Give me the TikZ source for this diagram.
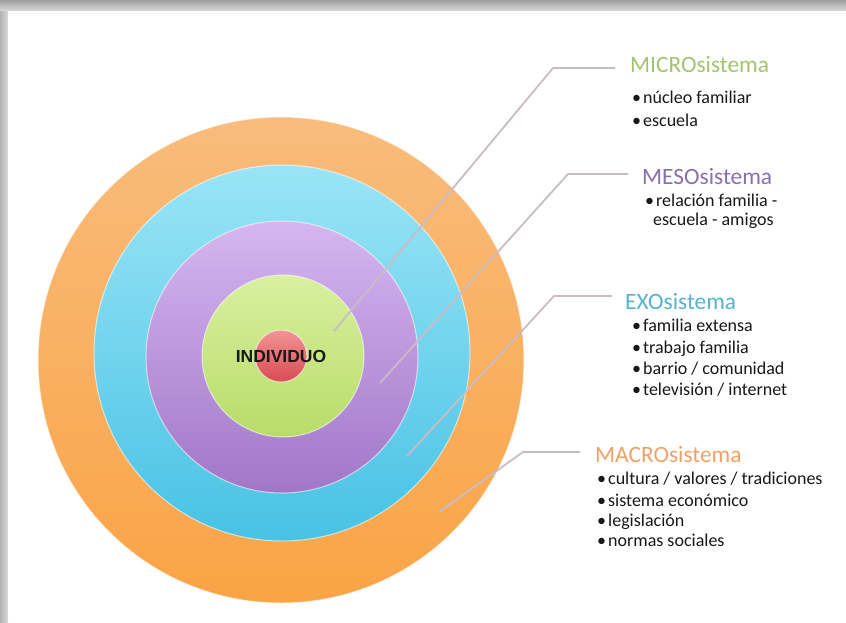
\documentclass[tikz,border=0pt]{standalone}
\usepackage{fontspec}
\setmainfont{Carlito}
\newfontfamily\arialf{Liberation Sans}
\definecolor{oT}{HTML}{F9BC7C}
\definecolor{oB}{HTML}{F9A445}
\definecolor{cT}{HTML}{9AE5F6}
\definecolor{cB}{HTML}{48C2E4}
\definecolor{pT}{HTML}{D6B6F0}
\definecolor{pB}{HTML}{A176C8}
\definecolor{gT}{HTML}{D8F0A0}
\definecolor{gB}{HTML}{B8DC68}
\definecolor{rT}{HTML}{F29496}
\definecolor{rB}{HTML}{DA4B52}
\definecolor{lineC}{HTML}{C9BCC4}
\definecolor{microC}{HTML}{A3C46E}
\definecolor{mesoC}{HTML}{8A6FAE}
\definecolor{exoC}{HTML}{55B4CE}
\definecolor{macroC}{HTML}{F4A066}
\definecolor{txtC}{HTML}{181818}
\newcommand\bl{\textbullet\hspace{2pt}}
\begin{document}
\begin{tikzpicture}[x=1pt,y=-1pt,
  ring/.style={circle, inner sep=0pt, draw=white, draw opacity=0.6, line width=1pt},
  conn/.style={draw=lineC, line width=1.8pt},
  ttl/.style={anchor=base west, inner sep=0pt, font=\fontsize{23.4}{27}\selectfont},
  bul/.style={anchor=base west, inner sep=0pt, text=txtC, font=\fontsize{18}{22}\selectfont}]
\useasboundingbox (0,0) rectangle (846,622);
% frame
\fill[top color=gray!75, bottom color=gray!30] (0,0) rectangle (846,11);
\fill[left color=gray!60, right color=gray!30] (0,11) rectangle (8,622);
\fill[white] (8,11) rectangle (846,622);
% circles
\node[ring, top color=oT, bottom color=oB, minimum size=486pt] (macro) at (281,360) {};
\node[ring, top color=cT, bottom color=cB, minimum size=376pt] (exo) at (282,353) {};
\node[ring, top color=pT, bottom color=pB, minimum size=272pt] (meso) at (282,357) {};
\node[ring, top color=gT, bottom color=gB, minimum size=162pt] (micro) at (283,356) {};
\node[ring, top color=rT, bottom color=rB, minimum size=52pt] (indiv) at (281,356) {};
\node[inner sep=0pt, text=txtC, font=\arialf\bfseries\fontsize{17.5}{20}\selectfont] (indivtxt) at (281,356) {INDIVIDUO};
% connector points
\coordinate (micS) at (334,331);
\coordinate (micK) at (553,68);
\coordinate (micE) at (615,68);
\coordinate (mesS) at (380,383);
\coordinate (mesK) at (568,174);
\coordinate (mesE) at (628,174);
\coordinate (exoS) at (407,456);
\coordinate (exoK) at (554,296);
\coordinate (exoE) at (612,296);
\coordinate (macS) at (439,512);
\coordinate (macK) at (523,452);
\coordinate (macE) at (580,452);
\draw[conn] (micS) -- (micK) -- (micE);
\draw[conn] (mesS) -- (mesK) -- (mesE);
\draw[conn] (exoS) -- (exoK) -- (exoE);
\draw[conn] (macS) -- (macK) -- (macE);
% labels
\node[ttl, text=microC] (micT) at (630,72) {MICROsistema};
\node[bul] (mic1) at (632,103) {\bl núcleo familiar};
\node[bul] (mic2) at (632,126) {\bl escuela};
\node[ttl, text=mesoC] (mesT) at (642,184) {MESOsistema};
\node[bul] (mes1) at (645,206) {\bl relación familia -};
\node[bul] (mes2) at (653,225) {escuela - amigos};
\node[ttl, text=exoC] (exoT) at (625,309) {EXOsistema};
\node[bul] (exo1) at (632,331) {\bl familia extensa};
\node[bul] (exo2) at (632,353) {\bl trabajo familia};
\node[bul] (exo3) at (632,374) {\bl barrio / comunidad};
\node[bul] (exo4) at (632,395) {\bl televisión / internet};
\node[ttl, text=macroC] (macT) at (595,462) {MACROsistema};
\node[bul] (mac1) at (597,484) {\bl cultura / valores / tradiciones};
\node[bul] (mac2) at (597,506) {\bl sistema económico};
\node[bul] (mac3) at (597,526) {\bl legislación};
\node[bul] (mac4) at (597,546) {\bl normas sociales};
\end{tikzpicture}
\end{document}
